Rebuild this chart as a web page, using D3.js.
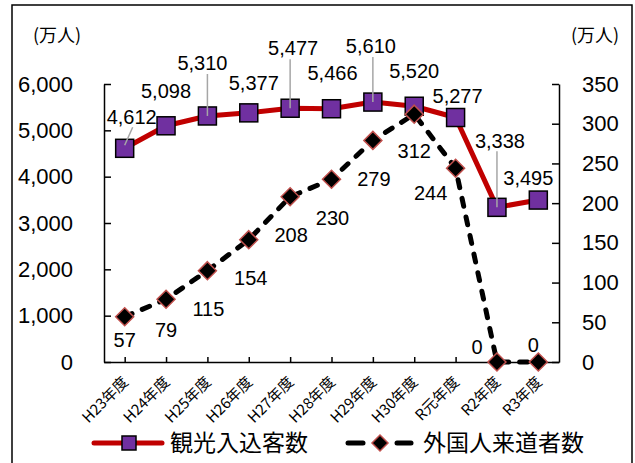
<!DOCTYPE html>
<html>
<head>
  <meta charset="utf-8">
  <script src="https://d3js.org/d3.v7.min.js"></script>
  <style>
    body { margin: 0; background: #fff; }
    text { fill: #000; }
  </style>
</head>
<body>
<script>

  // categories and the two series (万人)
  var years = ["H23年度", "H24年度", "H25年度", "H26年度", "H27年度", "H28年度",
               "H29年度", "H30年度", "R元年度", "R2年度", "R3年度"];
  var kankou = [4612, 5098, 5310, 5377, 5477, 5466, 5610, 5520, 5277, 3338, 3495];
  var gaikoku = [57, 79, 115, 154, 208, 230, 279, 312, 244, 0, 0];

  var leftTicks = [0, 1000, 2000, 3000, 4000, 5000, 6000];
  var rightTicks = [0, 50, 100, 150, 200, 250, 300, 350];

  var seriesNames = ["観光入込客数", "外国人来道者数"];

  // where each data label sits relative to its point (dx, dy), leader line or not
  var kankouLabelPos = [[7, -32, 1], [0, -35, 0], [-5, -53, 1], [5, -30, 0], [3, -60, 1],
                        [1, -36, 0], [-2, -56, 1], [0, -35, 0], [2, -22, 0], [3, -67, 1], [-10, -22, 0]];
  var gaikokuLabelPos = [[0, 23], [0, 31], [1, 38], [2, 38], [1, 38], [1, 38],
                         [1, 38], [0, 37], [-25, 25], [-20, -15], [-5, -17]];

  var width = 635, height = 463;
  var plotL = 104, plotR = 559, plotT = 84, plotB = 362;

  var svg = d3.select("body").append("svg")
      .attr("width", width)
      .attr("height", height);

  // outer frame
  svg.append("rect")
      .attr("x", 12).attr("y", 5)
      .attr("width", 620).attr("height", 470)
      .style("fill", "none")
      .style("stroke", "#000")
      .style("stroke-width", 1.5);

  var x = d3.scalePoint().domain(years).range([plotL, plotR]).padding(0.5);
  var yL = d3.scaleLinear().domain([0, 6000]).range([plotB, plotT]);
  var yR = d3.scaleLinear().domain([0, 350]).range([plotB, plotT]);

  // axes
  var axL = svg.append("g")
      .attr("transform", "translate(" + plotL + ",0)")
      .call(d3.axisLeft(yL).tickValues(leftTicks).tickSize(-7).tickSizeOuter(0)
            .tickPadding(31).tickFormat(d3.format(",")));
  var axR = svg.append("g")
      .attr("transform", "translate(" + plotR + ",0)")
      .call(d3.axisRight(yR).tickValues(rightTicks).tickSize(-7).tickSizeOuter(0)
            .tickPadding(23));
  [axL, axR].forEach(function(a){
    a.selectAll("text")
      .style("font-family", "'Liberation Sans', Arial, sans-serif")
      .style("font-size", "22px")
      .style("fill", "#000");
  });

  var axB = svg.append("g")
      .attr("transform", "translate(0," + plotB + ")")
      .call(d3.axisBottom(x).tickSize(-5).tickSizeOuter(0));
  axB.selectAll("text")
      .attr("y", 0).attr("dy", 0)
      .attr("transform", "translate(4,21) rotate(-45)")
      .style("text-anchor", "end")
      .style("font-family", "'Noto Sans CJK JP', sans-serif")
      .style("font-size", "15px")
      .style("fill", "#000");

  svg.selectAll(".domain, .tick line")
      .style("stroke", "#000")
      .style("stroke-width", 1.5);

  // unit labels
  svg.append("text").attr("x", 57).attr("y", 42)
      .style("text-anchor", "middle")
      .style("font-family", "'Noto Sans CJK JP', sans-serif")
      .style("font-size", "18px")
      .text("(万人)");
  svg.append("text").attr("x", 595).attr("y", 42)
      .style("text-anchor", "middle")
      .style("font-family", "'Noto Sans CJK JP', sans-serif")
      .style("font-size", "18px")
      .text("(万人)");

  var lineL = d3.line()
      .x(function(d, i){ return x(years[i]); })
      .y(function(d){ return yL(d); });
  var lineR = d3.line()
      .x(function(d, i){ return x(years[i]); })
      .y(function(d){ return yR(d); });

  // 観光入込客数
  svg.append("path")
      .datum(kankou)
      .attr("d", lineL)
      .style("fill", "none")
      .style("stroke", "#c00000")
      .style("stroke-width", 5)
      .style("stroke-linejoin", "round");

  svg.selectAll(".sq")
      .data(kankou)
      .enter().append("rect")
      .classed("sq", true)
      .attr("x", function(d, i){ return x(years[i]) - 9; })
      .attr("y", function(d){ return yL(d) - 9; })
      .attr("width", 18).attr("height", 18)
      .style("fill", "#7030a0")
      .style("stroke", "#000")
      .style("stroke-width", 1.5);

  // leader lines + labels for 観光入込客数
  kankou.forEach(function(d, i){
    var px = x(years[i]), py = yL(d), p = kankouLabelPos[i];
    if (p[2]) {
      svg.append("line")
          .attr("x1", i == 0 ? px + 8 : px).attr("y1", py + p[1] + 11)
          .attr("x2", px).attr("y2", i == 0 ? py - 3 : py)
          .style("stroke", "#a6a6a6")
          .style("stroke-width", 1.5);
    }
    svg.append("text")
        .attr("x", px + p[0]).attr("y", py + p[1])
        .attr("dy", "0.36em")
        .style("text-anchor", "middle")
        .style("font-family", "'Liberation Sans', Arial, sans-serif")
        .style("font-size", "20px")
        .text(d3.format(",")(d));
  });

  // 外国人来道者数
  svg.append("path")
      .datum(gaikoku)
      .attr("d", lineR)
      .style("fill", "none")
      .style("stroke", "#000")
      .style("stroke-width", 5)
      .style("stroke-linecap", "round")
      .style("stroke-dasharray", "8,11");

  var diamond = function(cx, cy, r){
    return "M" + cx + "," + (cy - r) + "L" + (cx + r) + "," + cy + "L" + cx + "," + (cy + r) + "L" + (cx - r) + "," + cy + "Z";
  };

  svg.selectAll(".dm")
      .data(gaikoku)
      .enter().append("path")
      .classed("dm", true)
      .attr("d", function(d, i){ return diamond(x(years[i]), yR(d), 9); })
      .style("fill", "#000")
      .style("stroke", "#c0504d")
      .style("stroke-width", 1.5);

  gaikoku.forEach(function(d, i){
    var p = gaikokuLabelPos[i];
    svg.append("text")
        .attr("x", x(years[i]) + p[0]).attr("y", yR(d) + p[1])
        .attr("dy", "0.36em")
        .style("text-anchor", "middle")
        .style("font-family", "'Liberation Sans', Arial, sans-serif")
        .style("font-size", "20px")
        .text(d);
  });

  // legend
  var lg = svg.append("g").attr("transform", "translate(0,443)");
  lg.append("line").attr("x1", 94).attr("x2", 162).attr("y1", 0).attr("y2", 0)
      .style("stroke", "#c00000").style("stroke-width", 5).style("stroke-linecap", "round");
  lg.append("rect").attr("x", 122).attr("y", -7).attr("width", 14).attr("height", 14)
      .style("fill", "#7030a0").style("stroke", "#000").style("stroke-width", 1.5);
  lg.append("text").attr("x", 170).attr("y", 0).attr("dy", "0.36em")
      .style("font-family", "'Noto Sans CJK JP', sans-serif")
      .style("font-size", "23px")
      .text(seriesNames[0]);

  [[348, 363], [397, 411]].forEach(function(s){
    lg.append("line").attr("x1", s[0]).attr("x2", s[1]).attr("y1", 0).attr("y2", 0)
        .style("stroke", "#000").style("stroke-width", 5).style("stroke-linecap", "round");
  });
  lg.append("path").attr("d", diamond(380, 0, 8))
      .style("fill", "#000").style("stroke", "#c0504d").style("stroke-width", 1.5);
  lg.append("text").attr("x", 423).attr("y", 0).attr("dy", "0.36em")
      .style("font-family", "'Noto Sans CJK JP', sans-serif")
      .style("font-size", "23px")
      .text(seriesNames[1]);

</script>
</body>
</html>
